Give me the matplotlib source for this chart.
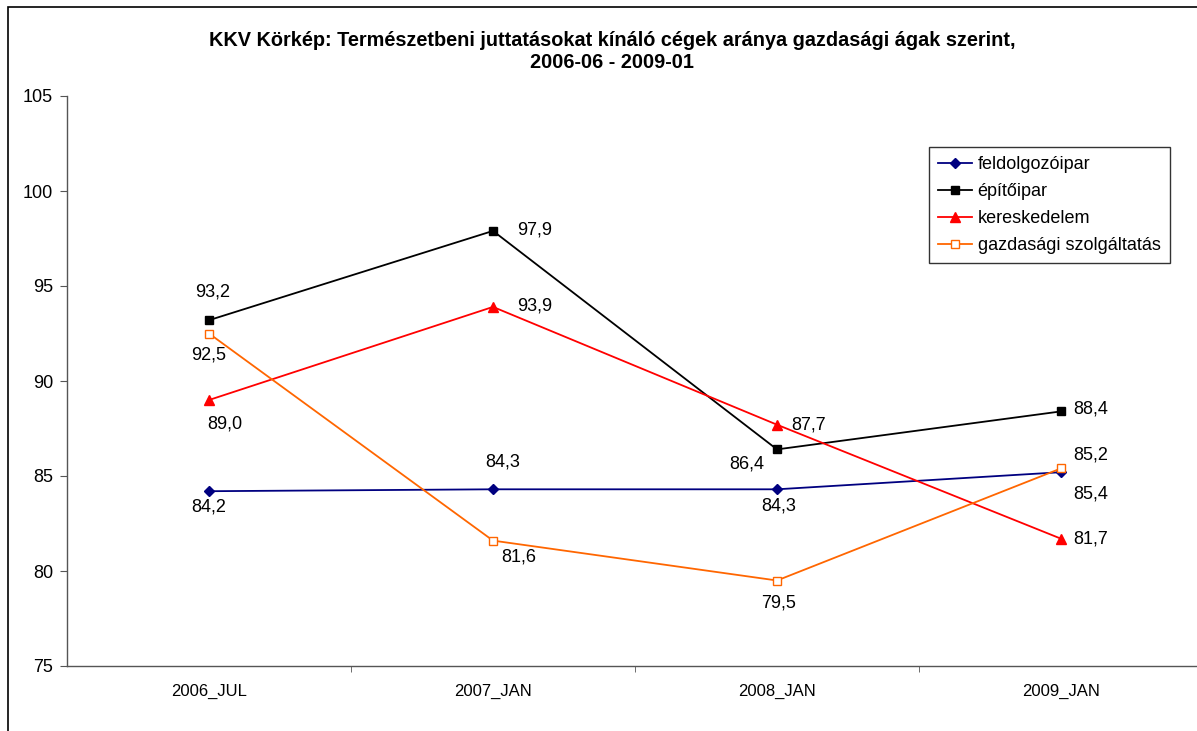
import matplotlib
matplotlib.use('Agg')
import matplotlib.pyplot as plt
from matplotlib.patches import Rectangle

plt.rcParams['font.family'] = ['Liberation Sans', 'DejaVu Sans']

categories = ['2006_JUL', '2007_JAN', '2008_JAN', '2009_JAN']
feldolgozoipar = [84.2, 84.3, 84.3, 85.2]
epitoipar = [93.2, 97.9, 86.4, 88.4]
kereskedelem = [89.0, 93.9, 87.7, 81.7]
szolgaltatas = [92.5, 81.6, 79.5, 85.4]

# label offsets (pixels) for each point
off_feld = [(0, -16), (10, 27), (2, -17), (30, 17)]
off_epit = [(4, 28), (42, 1), (-30, -15), (30, 2)]
off_ker = [(16, -24), (42, 1), (32, 0), (30, 0)]
off_szol = [(0, -22), (26, -16), (2, -23), (30, -26)]

fig = plt.figure(figsize=(11.97, 7.31), dpi=100)
W, H = 1197, 731
fig.patches.append(Rectangle((7.5 / W, -0.1), 1.2, 1 - 7.5 / H + 0.1,
                             transform=fig.transFigure, fill=False,
                             edgecolor='black', linewidth=1.2))

ax = fig.add_axes([67 / W, (H - 666) / H, 1136 / W, 570 / H])
x = list(range(len(categories)))

series = [
    (feldolgozoipar, 'feldolgozóipar', '#000080', 'D', '#000080', 5, off_feld),
    (epitoipar, 'építőipar', 'black', 's', 'black', 6, off_epit),
    (kereskedelem, 'kereskedelem', '#FF0000', '^', '#FF0000', 7, off_ker),
    (szolgaltatas, 'gazdasági szolgáltatás', '#FF6600', 's', 'white', 6, off_szol),
]
for vals, name, col, mk, fc, ms, offs in series:
    ax.plot(x, vals, color=col, lw=1.3, marker=mk, markersize=ms,
            markerfacecolor=fc, markeredgecolor=col, markeredgewidth=1.0,
            label=name, clip_on=False)
    for xi, v, (dx, dy) in zip(x, vals, offs):
        ax.annotate(f'{v:.1f}'.replace('.', ','), (xi, v),
                    xytext=(dx * 0.72, dy * 0.72), textcoords='offset points',
                    ha='center', va='center', fontsize=13)

ax.set_xlim(-0.5, 3.5)
ax.set_ylim(75, 105)
ax.set_yticks(range(75, 106, 5))
ax.set_xticks(x)
ax.set_xticklabels(categories, fontsize=12)
ax.set_xticks([0.5, 1.5, 2.5], minor=True)
ax.tick_params(axis='x', which='major', length=0, pad=13)
ax.tick_params(axis='x', which='minor', length=4, color='#555555')
ax.tick_params(axis='y', length=5, labelsize=13, color='#555555', pad=5)
for s in ['top', 'right']:
    ax.spines[s].set_visible(False)
for s in ['left', 'bottom']:
    ax.spines[s].set_color('#555555')
    ax.spines[s].set_linewidth(1.0)

leg = ax.legend(loc='upper left', bbox_to_anchor=(929 / W, (H - 147) / H),
                bbox_transform=fig.transFigure, fontsize=13, frameon=True,
                fancybox=False, edgecolor='black', handlelength=1.9,
                handletextpad=0.3, borderpad=0.5, labelspacing=0.55,
                borderaxespad=0)
leg.get_frame().set_linewidth(1.0)

fig.text(612 / W, 1 - 40 / H,
         'KKV Körkép: Természetbeni juttatásokat kínáló cégek aránya gazdasági ágak szerint,',
         ha='center', va='center', fontsize=14.3, fontweight='bold')
fig.text(612 / W, 1 - 62 / H, '2006-06 - 2009-01',
         ha='center', va='center', fontsize=14.3, fontweight='bold')

fig.savefig('out.png', dpi=100)
